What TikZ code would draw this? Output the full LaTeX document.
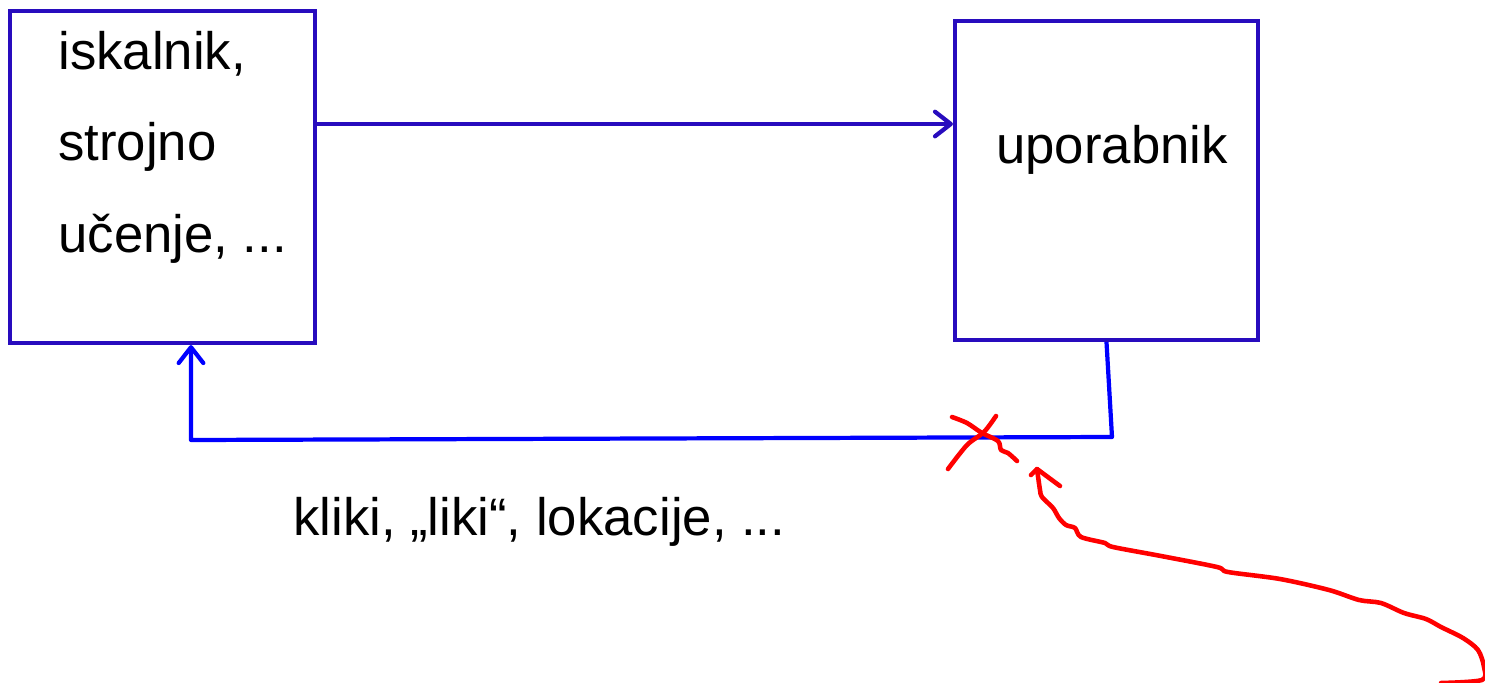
\documentclass[tikz,border=0pt]{standalone}
\usepackage{fontspec}
\setmainfont{Liberation Sans}
\usetikzlibrary{arrows.meta}
\definecolor{boxblue}{RGB}{40,12,190}
\definecolor{fbblue}{RGB}{0,0,255}
\definecolor{penred}{RGB}{255,0,0}

\begin{document}
\begin{tikzpicture}[x=0.02cm,y=-0.02cm,
    box/.style={draw=boxblue, line width=2.4pt, inner sep=0pt},
    lbl/.style={inner sep=0pt, font=\fontsize{30}{52}\selectfont},
    tipv/.style={-{Straight Barb[length=9pt,width=14pt,line cap=round,line join=round]}},
    fb/.style={draw=fbblue, line width=2.4pt, line join=round},
    scribble/.style={draw=penred, line width=2.6pt, line cap=round, line join=round}]
    \useasboundingbox (0,0) rectangle (1485,683);
    % boxes
    \node[box, minimum width=6.1cm, minimum height=6.64cm] (iskalnik) at (162.5,177) {};
    \node[box, minimum width=6.06cm, minimum height=6.38cm] (uporabnik) at (1106.5,180.5) {};
    \node[lbl, anchor=north west, align=left] (isktext) at (58,31) {iskalnik,\\strojno\\učenje, ...};
    \node[lbl, anchor=base west] (uptext) at (996,163) {uporabnik};
    \node[lbl, anchor=base west] (fbtext) at (293,535) {kliki, „liki“, lokacije, ...};
    % povezave
    \coordinate (top) at (0,124);
    \coordinate (fbR) at (1112,437);
    \coordinate (fbL) at (191,440);
    \draw[box, tipv] (iskalnik.east |- top) -- (uporabnik.west |- top);
    \draw[fb, tipv] (uporabnik.south) -- (fbR) -- (fbL) -- (fbL |- iskalnik.south);
    % rdece
    \draw[scribble] plot[smooth] coordinates {(952,417) (967,423) (982,433) (998,441) (1001,450) (1008,453) (1017,461)};
    \draw[scribble] plot[smooth] coordinates {(996,416) (984,432) (967,445) (948,469)};
    \draw[scribble] (1031,475) -- (1037,469) -- (1060,486);
    \draw[scribble] plot[smooth] coordinates {(1037,469) (1040,490) (1042,497) (1053,508) (1059,518) (1066,525) (1075,528) (1081,537) (1105,543) (1113,547) (1161,556) (1217,567) (1228,572) (1280,579) (1329,590) (1359,600) (1381,603) (1404,613) (1426,619) (1441,627) (1463,638) (1478,650) (1484,667) (1482,680) (1441,683)};
\end{tikzpicture}
\end{document}
